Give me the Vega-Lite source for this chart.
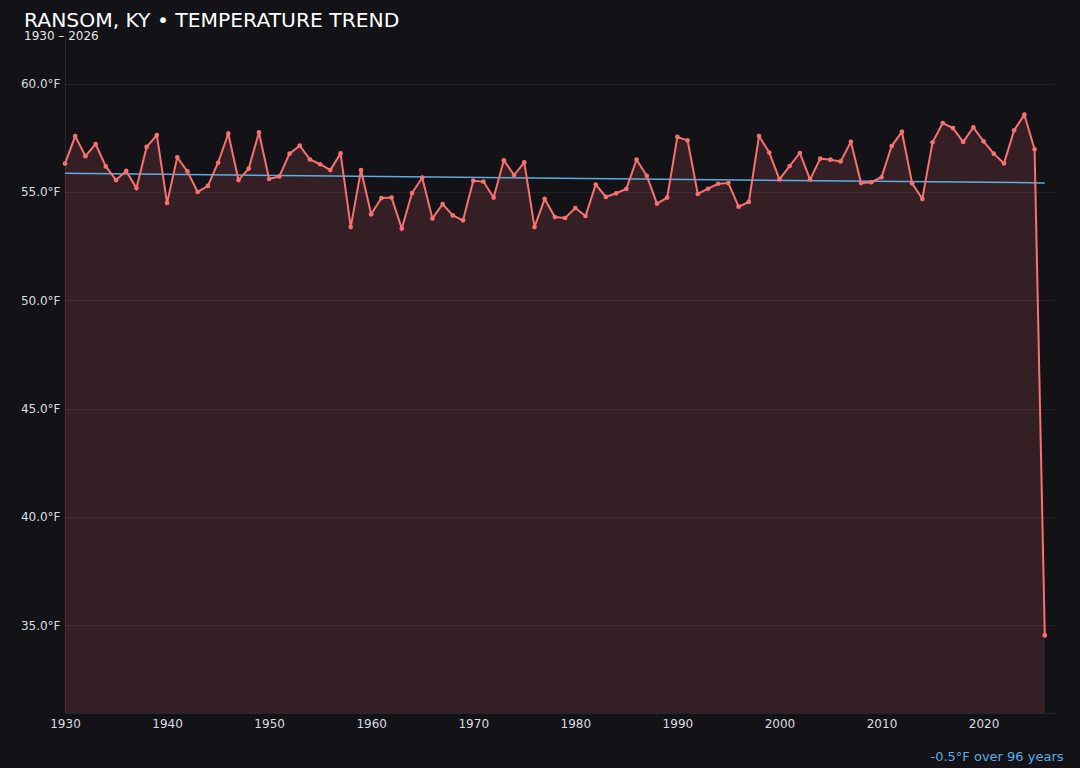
{
  "$schema": "https://vega.github.io/schema/vega-lite/v6.json",
  "width": 990,
  "height": 677,
  "autosize": {"type": "none"},
  "padding": {"left": 65, "top": 36, "right": 25, "bottom": 55},
  "background": "#121217",
  "title": {
    "text": "RANSOM, KY • TEMPERATURE TREND",
    "subtitle": "1930 – 2026",
    "anchor": "start",
    "frame": "group",
    "dx": -41,
    "offset": -6,
    "font": "DejaVu Sans",
    "fontSize": 20.3,
    "fontWeight": "normal",
    "color": "#ffffff",
    "subtitleFont": "DejaVu Sans",
    "subtitleFontSize": 12,
    "subtitleColor": "#e6e6e6",
    "subtitlePadding": 0
  },
  "datasets": {
    "temps": [
      {"year": 1930, "temp": 56.31}, {"year": 1931, "temp": 57.58}, {"year": 1932, "temp": 56.65},
      {"year": 1933, "temp": 57.21}, {"year": 1934, "temp": 56.18}, {"year": 1935, "temp": 55.55},
      {"year": 1936, "temp": 55.97}, {"year": 1937, "temp": 55.18}, {"year": 1938, "temp": 57.08},
      {"year": 1939, "temp": 57.63}, {"year": 1940, "temp": 54.49}, {"year": 1941, "temp": 56.6},
      {"year": 1942, "temp": 55.95}, {"year": 1943, "temp": 55.0}, {"year": 1944, "temp": 55.28},
      {"year": 1945, "temp": 56.35}, {"year": 1946, "temp": 57.69}, {"year": 1947, "temp": 55.55},
      {"year": 1948, "temp": 56.08}, {"year": 1949, "temp": 57.75}, {"year": 1950, "temp": 55.6},
      {"year": 1951, "temp": 55.72}, {"year": 1952, "temp": 56.77}, {"year": 1953, "temp": 57.14},
      {"year": 1954, "temp": 56.5}, {"year": 1955, "temp": 56.28}, {"year": 1956, "temp": 56.01},
      {"year": 1957, "temp": 56.78}, {"year": 1958, "temp": 53.38}, {"year": 1959, "temp": 56.01},
      {"year": 1960, "temp": 53.97}, {"year": 1961, "temp": 54.72}, {"year": 1962, "temp": 54.74},
      {"year": 1963, "temp": 53.31}, {"year": 1964, "temp": 54.95}, {"year": 1965, "temp": 55.66},
      {"year": 1966, "temp": 53.78}, {"year": 1967, "temp": 54.44}, {"year": 1968, "temp": 53.92},
      {"year": 1969, "temp": 53.69}, {"year": 1970, "temp": 55.52}, {"year": 1971, "temp": 55.48},
      {"year": 1972, "temp": 54.74}, {"year": 1973, "temp": 56.46}, {"year": 1974, "temp": 55.78},
      {"year": 1975, "temp": 56.37}, {"year": 1976, "temp": 53.38}, {"year": 1977, "temp": 54.68},
      {"year": 1978, "temp": 53.84}, {"year": 1979, "temp": 53.8}, {"year": 1980, "temp": 54.26},
      {"year": 1981, "temp": 53.89}, {"year": 1982, "temp": 55.34}, {"year": 1983, "temp": 54.77},
      {"year": 1984, "temp": 54.94}, {"year": 1985, "temp": 55.14}, {"year": 1986, "temp": 56.49},
      {"year": 1987, "temp": 55.75}, {"year": 1988, "temp": 54.46}, {"year": 1989, "temp": 54.74},
      {"year": 1990, "temp": 57.54}, {"year": 1991, "temp": 57.38}, {"year": 1992, "temp": 54.91},
      {"year": 1993, "temp": 55.15}, {"year": 1994, "temp": 55.38}, {"year": 1995, "temp": 55.41},
      {"year": 1996, "temp": 54.32}, {"year": 1997, "temp": 54.54}, {"year": 1998, "temp": 57.58},
      {"year": 1999, "temp": 56.82}, {"year": 2000, "temp": 55.58}, {"year": 2001, "temp": 56.2},
      {"year": 2002, "temp": 56.8}, {"year": 2003, "temp": 55.58}, {"year": 2004, "temp": 56.54},
      {"year": 2005, "temp": 56.49}, {"year": 2006, "temp": 56.41}, {"year": 2007, "temp": 57.32},
      {"year": 2008, "temp": 55.41}, {"year": 2009, "temp": 55.45}, {"year": 2010, "temp": 55.68},
      {"year": 2011, "temp": 57.12}, {"year": 2012, "temp": 57.78}, {"year": 2013, "temp": 55.4},
      {"year": 2014, "temp": 54.68}, {"year": 2015, "temp": 57.29}, {"year": 2016, "temp": 58.18},
      {"year": 2017, "temp": 57.95}, {"year": 2018, "temp": 57.31}, {"year": 2019, "temp": 57.98},
      {"year": 2020, "temp": 57.34}, {"year": 2021, "temp": 56.77}, {"year": 2022, "temp": 56.32},
      {"year": 2023, "temp": 57.85}, {"year": 2024, "temp": 58.57}, {"year": 2025, "temp": 56.97},
      {"year": 2026, "temp": 34.53}
    ],
    "trend": [
      {"year": 1930, "temp": 55.86},
      {"year": 2026, "temp": 55.42}
    ]
  },
  "encoding": {
    "x": {
      "field": "year",
      "type": "quantitative",
      "scale": {"domain": [1930, 2027], "nice": false, "zero": false},
      "axis": {
        "values": [1930, 1940, 1950, 1960, 1970, 1980, 1990, 2000, 2010, 2020],
        "format": "d",
        "grid": false,
        "ticks": false,
        "labelFlush": false,
        "labelPadding": 5,
        "title": "-0.5°F over 96 years",
        "titleColor": "#5dade2",
        "titleFont": "DejaVu Sans",
        "titleFontSize": 13,
        "titleFontWeight": "normal",
        "titleAlign": "right",
        "titleAnchor": "end",
        "titleBaseline": "alphabetic",
        "titleX": 998,
        "titleY": 47
      }
    },
    "y": {
      "field": "temp",
      "type": "quantitative",
      "scale": {"domain": [30.95, 62.2], "nice": false, "zero": false},
      "axis": {
        "values": [35, 40, 45, 50, 55, 60],
        "labelExpr": "format(datum.value, '.1f') + '°F'",
        "ticks": false,
        "labelPadding": 5,
        "title": null
      }
    }
  },
  "layer": [
    {
      "data": {"name": "temps"},
      "mark": {"type": "area", "color": "#f87171", "opacity": 0.15, "clip": true}
    },
    {
      "data": {"name": "trend"},
      "mark": {"type": "line", "color": "#5dade2", "strokeWidth": 1.5}
    },
    {
      "data": {"name": "temps"},
      "mark": {"type": "line", "color": "#f87171", "strokeWidth": 2, "point": {"filled": true, "size": 22, "color": "#f87171"}}
    }
  ],
  "config": {
    "view": {"stroke": null},
    "font": "DejaVu Sans",
    "axis": {
      "labelColor": "#dcdce0",
      "labelFont": "DejaVu Sans",
      "labelFontSize": 12,
      "domainColor": "#26262c",
      "gridColor": "#202026",
      "gridWidth": 1
    }
  }
}
